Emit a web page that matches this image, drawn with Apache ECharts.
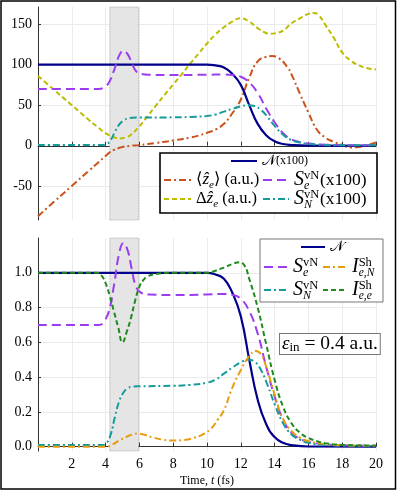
<!DOCTYPE html>
<html>
<head>
<meta charset="utf-8">
<title>ECharts</title>
<script src="https://cdn.jsdelivr.net/npm/echarts@6/dist/echarts.min.js"></script>
<style>
  body { margin: 0; background: #fff; }
  #main { width: 398px; height: 491px; }
</style>
</head>
<body>
<div id="main"></div>
<script type="text/javascript">
// [time (fs), value] pairs
var nPop = [[0,1],[10,1],[10.5,0.99],[11,0.965],[11.5,0.885],[12,0.75],[12.5,0.5],[13,0.27],[13.5,0.13],[14,0.055],[14.5,0.022],[15,0.009],[16,0.001],[20,0]];
var sE = [[0,0.7],[3.6,0.7],[3.9,0.72],[4.2,0.78],[4.5,0.93],[4.8,1.11],[5.05,1.17],[5.3,1.13],[5.55,1.02],[5.8,0.92],[6.1,0.885],[6.6,0.875],[8,0.872],[10,0.875],[11,0.878],[11.5,0.873],[12,0.85],[12.5,0.78],[13,0.65],[13.5,0.46],[14,0.29],[14.5,0.155],[15,0.08],[15.5,0.045],[16,0.027],[17,0.013],[18,0.008],[20,0.005]];
var sN = [[0,0.01],[3.8,0.01],[4.05,0.02],[4.3,0.07],[4.55,0.17],[4.8,0.26],[5.05,0.31],[5.3,0.335],[5.6,0.345],[6,0.347],[8,0.35],[9,0.355],[10,0.368],[10.5,0.385],[11,0.42],[11.5,0.455],[12,0.485],[12.45,0.5],[12.8,0.49],[13.2,0.44],[13.6,0.35],[14,0.245],[14.5,0.135],[15,0.07],[15.5,0.04],[16,0.022],[17,0.01],[18,0.006],[20,0.005]];
var iEN = [[0,0],[4,0],[4.4,0.012],[4.8,0.035],[5.2,0.055],[5.6,0.07],[5.9,0.075],[6.3,0.068],[6.8,0.053],[7.4,0.04],[8,0.035],[8.6,0.038],[9.2,0.05],[9.7,0.068],[10.2,0.1],[10.6,0.15],[11,0.21],[11.5,0.34],[12,0.44],[12.5,0.52],[12.9,0.55],[13.2,0.53],[13.5,0.46],[14,0.3],[14.5,0.16],[15,0.09],[15.5,0.052],[16,0.032],[17,0.015],[18,0.008],[20,0.005]];
var iEE = [[0,1],[3.5,1],[3.75,0.985],[4,0.94],[4.25,0.865],[4.5,0.775],[4.75,0.685],[5,0.6],[5.25,0.66],[5.5,0.74],[5.75,0.84],[6,0.92],[6.25,0.96],[6.5,0.98],[7,0.993],[8,1],[10,1],[10.5,1.012],[11,1.03],[11.5,1.05],[11.9,1.06],[12.2,1.045],[12.5,0.965],[13,0.8],[13.5,0.59],[14,0.385],[14.5,0.23],[15,0.135],[15.5,0.08],[16,0.05],[16.5,0.032],[17,0.02],[18,0.01],[20,0.005]];
// <z_e> and Delta z_e in a.u.
var zMean = [[0,-87],[1,-68],[2,-49.5],[3,-31],[4,-12.5],[4.25,-8],[4.5,-5],[4.75,-3],[5,-1.5],[5.5,0],[6,0.8],[7,3.5],[8,6.5],[9,10],[9.5,12.5],[10,16],[10.5,20],[11,27],[11.5,40],[12,57],[12.5,84],[13,104],[13.5,109.5],[13.85,110.5],[14.25,108],[14.75,97],[15,88],[15.5,64],[16,41],[16.5,20],[17,10],[17.5,5],[18,1],[18.5,-2],[19,-1.5],[19.5,1],[20,4]];
var zWidth = [[0,86],[0.5,77],[1,68],[1.5,59],[2,50],[2.5,41],[3,32],[3.5,23.5],[4,15.5],[4.5,10.5],[4.85,9],[5.2,10.5],[5.5,13.5],[6,24],[6.5,37],[7,50],[7.5,63],[8,75.5],[8.5,88],[9,101],[9.5,113.5],[10,126],[10.5,137],[11,146],[11.5,153],[12,157],[12.5,153],[13,145],[13.5,139],[13.75,138],[14,138.5],[14.5,142],[15,151],[15.5,157],[16,162.5],[16.3,163.5],[16.6,161],[17,149],[17.5,133],[18,115],[18.5,105],[19,99],[19.5,95.5],[20,94]];
var xTicks = [0, 20, 2];
var pulse = [4.25, 5.95];

var FONT = "'Liberation Serif', 'DejaVu Serif', serif";
var RICH = {
  rm: { fontFamily: FONT, fontSize: 16.5 },
  it: { fontFamily: FONT, fontSize: 17, fontStyle: 'italic' },
  sm: { fontFamily: FONT, fontSize: 12 },
  cal: { fontFamily: "'DejaVu Sans', 'DejaVu Serif', serif", fontSize: 15 },
  bi: { fontFamily: FONT, fontSize: 20, fontStyle: 'italic' },
  br: { fontFamily: FONT, fontSize: 17.5 },
  sup: { fontFamily: FONT, fontSize: 12.5, verticalAlign: 'top', height: 15, width: 0 },
  sa: { fontFamily: FONT, fontSize: 12, fontStyle: 'italic', verticalAlign: 'bottom', height: 13, width: 16 },
  sb: { fontFamily: FONT, fontSize: 11.5, fontStyle: 'italic', verticalAlign: 'bottom', height: 13, width: 17 },
  s2: { fontFamily: FONT, fontSize: 11, fontStyle: 'italic', verticalAlign: 'bottom', height: 14 }
};

function scale100(pts) {
  return pts.map(function (p) { return [p[0], p[1] * 100]; });
}

function line(name, grid, data, color, dash, width) {
  return {
    name: name, type: 'line', xAxisIndex: grid, yAxisIndex: grid,
    data: data, smooth: true, symbol: 'none', color: color,
    lineStyle: { color: color, width: width || 2, type: dash || 'solid' },
    emphasis: { disabled: true }
  };
}

// one legend entry per component so each can sit where the original has it
function lg(name, x, y, w, fmt) {
  return {
    data: [name], left: x, top: y - 12, padding: 0, itemWidth: w, itemHeight: 10,
    selectedMode: false, itemStyle: { opacity: 0 },
    formatter: function () { return fmt; },
    textStyle: { fontFamily: FONT, fontSize: 16, lineHeight: 24, color: '#000', rich: RICH }
  };
}

var DASH_DOT = [7, 3, 2, 3];
var LONG = [9, 5];
var SHORT = [5, 3];

var shade = {
  silent: true,
  itemStyle: { color: '#e5e5e5', borderColor: '#9a9a9a', borderWidth: 0.8, borderType: 'dotted' },
  data: [[{ xAxis: pulse[0] }, { xAxis: pulse[1] }]]
};

var sTop = [
  line('ze', 0, zMean, '#c9531b', DASH_DOT),
  line('dz', 0, zWidth, '#bdbd00', SHORT),
  line('N100', 0, scale100(nPop), '#00008b', 'solid', 2.2),
  line('Se100', 0, scale100(sE), '#9b3cf0', LONG),
  line('SN100', 0, scale100(sN), '#169b9b', DASH_DOT)
];
sTop[0].markArea = shade;

var sBot = [
  line('N', 1, nPop, '#00008b', 'solid', 2.2),
  line('Se', 1, sE, '#9b3cf0', LONG),
  line('SN', 1, sN, '#169b9b', DASH_DOT),
  line('IeN', 1, iEN, '#e89c10', DASH_DOT),
  line('Iee', 1, iEE, '#1f8a1f', SHORT)
];
sBot[0].markArea = shade;

function xAx(grid, labels) {
  return {
    type: 'value', gridIndex: grid, min: xTicks[0], max: xTicks[1], interval: xTicks[2],
    axisLine: { lineStyle: { color: '#333', width: 1 } },
    axisTick: { inside: true, length: 4, lineStyle: { color: '#333' } },
    axisLabel: { show: labels, showMinLabel: false, margin: 6, color: '#000', fontFamily: FONT, fontSize: 14 },
    splitLine: { lineStyle: { color: '#ebebeb' } },
    name: labels ? 'Time, {it|t} (fs)' : '',
    nameLocation: 'middle', nameGap: 24,
    nameTextStyle: { color: '#000', fontFamily: FONT, fontSize: 12, rich: { it: { fontFamily: FONT, fontSize: 12, fontStyle: 'italic' } } }
  };
}

function yAx(grid, min, max, fmt) {
  return {
    type: 'value', gridIndex: grid, min: min, max: max,
    axisLine: { show: true, lineStyle: { color: '#333', width: 1 } },
    axisTick: { show: true, inside: true, length: 3, lineStyle: { color: '#333' } },
    axisLabel: { showMinLabel: false, showMaxLabel: false, margin: 6, color: '#000', fontFamily: FONT, fontSize: 14, formatter: fmt },
    splitLine: { show: true, showMinLine: false, showMaxLine: false, lineStyle: { color: '#ebebeb' } }
  };
}

var myChart = echarts.init(document.getElementById('main'));
var option = {
  animation: false,
  backgroundColor: '#fff',
  grid: [
    { left: 38, right: 22, top: 7, height: 213 },
    { left: 38, right: 22, top: 238, height: 213 }
  ],
  xAxis: [xAx(0, false), xAx(1, true)],
  yAxis: [
    yAx(0, -91.5, 171, function (v) { return v < 0 ? '-' + Math.abs(v) : String(v); }),
    yAx(1, -0.025, 1.2, function (v) { return v.toFixed(1); })
  ],
  legend: [
    lg('N100', 230, 161, 26, '{cal|𝒩}{sm|(x100)}'),
    lg('ze', 163, 180, 27, '{rm|⟨}{it|ẑ}{s2|e}{rm|⟩ (a.u.)}'),
    lg('Se100', 262, 180, 26, '{bi|S}{sup|vN}{sa|e}{br|(x100)}'),
    lg('dz', 163, 199, 27, '{rm|Δ}{it|ẑ}{s2|e}{rm| (a.u.)}'),
    lg('SN100', 262, 199, 26, '{bi|S}{sup|vN}{sa|N}{br|(x100)}'),
    lg('N', 300, 247, 24, '{cal|𝒩}'),
    lg('Se', 263, 267, 24, '{bi|S}{sup|vN}{sa|e}'),
    lg('IeN', 322, 267, 24, '{bi|I}{sup|Sh}{sb|e,N}'),
    lg('SN', 263, 290, 24, '{bi|S}{sup|vN}{sa|N}'),
    lg('Iee', 322, 290, 24, '{bi|I}{sup|Sh}{sb|e,e}')
  ],
  graphic: [
    { type: 'rect', z: 3, shape: { x: 160, y: 153, width: 217, height: 60 },
      style: { fill: '#fff', stroke: '#000', lineWidth: 1.6 } },
    { type: 'rect', z: 3, shape: { x: 260, y: 239, width: 123, height: 63 },
      style: { fill: '#fff', stroke: '#777', lineWidth: 1 } },
    { type: 'text', z: 5, left: 279, top: 333,
      style: {
        text: '{it|ε}{s2|in}{rm| = 0.4 a.u.}', fill: '#000',
        backgroundColor: '#fff', borderColor: '#777', borderWidth: 1, padding: [0, 2, 0, 2],
        lineHeight: 20,
        rich: {
          it: { fontFamily: FONT, fontSize: 19, fontStyle: 'italic' },
          s2: { fontFamily: FONT, fontSize: 13, verticalAlign: 'bottom', height: 13 },
          rm: { fontFamily: FONT, fontSize: 19.5 }
        }
      } },
    { type: 'rect', z: 10, shape: { x: 1, y: 1, width: 394.5, height: 488 },
      style: { fill: 'none', stroke: '#000', lineWidth: 1.5 } }
  ],
  series: sTop.concat(sBot)
};
myChart.setOption(option);
</script>
</body>
</html>
